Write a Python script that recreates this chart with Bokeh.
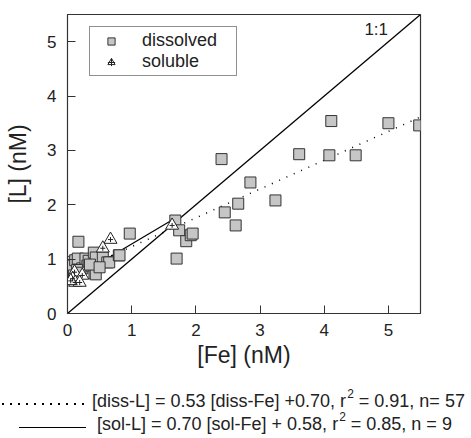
from bokeh.plotting import figure
from bokeh.layouts import column
from bokeh.models import Range1d, FixedTicker, Legend, LegendItem, Label, Div
from bokeh.embed import file_html
from bokeh.resources import INLINE

# dissolved data
diss_fe = [0.05, 0.08, 0.12, 0.16, 0.17, 0.23, 0.28, 0.31, 0.33, 0.41, 0.42, 0.44, 0.44,
           0.55, 0.62, 0.65, 0.8, 0.81, 0.97, 0.15, 0.1, 0.2, 0.35, 0.5,
           1.68, 1.70, 1.74, 1.85, 1.92, 1.95, 2.40, 2.45, 2.62, 2.66, 2.85, 3.24,
           3.61, 4.08, 4.11, 4.49, 5.0, 5.48]
diss_l = [0.95, 0.88, 0.98, 1.01, 1.32, 0.83, 1.01, 0.88, 0.97, 1.12, 0.74, 1.03, 0.72,
          1.03, 0.94, 0.94, 1.07, 1.07, 1.47, 0.8, 0.7, 0.75, 0.9, 0.85,
          1.71, 1.01, 1.53, 1.33, 1.44, 1.47, 2.84, 1.86, 1.62, 2.02, 2.41, 2.08,
          2.93, 2.91, 3.54, 2.91, 3.50, 3.46]
# soluble data
sol_fe = [0.67, 0.55, 1.63, 0.11, 0.08, 0.23, 0.12, 0.19, 0.05]
sol_l = [1.36, 1.20, 1.62, 0.76, 0.64, 0.70, 0.57, 0.57, 0.60]

diss_slope, diss_int = 0.53, 0.70
sol_slope, sol_int = 0.70, 0.58
diss_fit_x = [0.0, 5.5]
sol_fit_x = [0.08, 1.65]
one_x = [0.0, 5.5]

ticks = [0, 1, 2, 3, 4, 5]
eq1_a, eq1_b = "[diss-L] = 0.53 [diss-Fe] +0.70, r", " = 0.91, n= 57"
eq2_a, eq2_b = "[sol-L] = 0.70 [sol-Fe] + 0.58, r", " = 0.85, n = 9"

FONT = "Liberation Sans"
TXT = "#222222"

p = figure(frame_width=353, frame_height=299, output_backend="svg", toolbar_location=None,
           x_range=Range1d(0, 5.5), y_range=Range1d(0, 5.5),
           min_border_left=67, min_border_right=35, min_border_top=14, min_border_bottom=57)
p.grid.visible = False
p.outline_line_color = "#333333"
p.outline_line_width = 1.2
p.background_fill_color = "white"
p.border_fill_color = "white"

for ax in (p.xaxis[0], p.yaxis[0]):
    ax.ticker = FixedTicker(ticks=ticks)
    ax.major_tick_in = 8
    ax.major_tick_out = 0
    ax.minor_tick_in = 0
    ax.minor_tick_out = 0
    ax.axis_line_color = "#333333"
    ax.major_tick_line_color = "#333333"
    ax.major_label_text_font = FONT
    ax.major_label_text_font_size = "17px"
    ax.major_label_text_color = TXT
    ax.axis_label_text_font = FONT
    ax.axis_label_text_font_size = "23px"
    ax.axis_label_text_font_style = "normal"
    ax.axis_label_text_color = TXT

p.xaxis.axis_label = "[Fe] (nM)"
p.yaxis.axis_label = "[L] (nM)"
p.xaxis.major_label_standoff = 10
p.xaxis.axis_label_standoff = 3
p.yaxis.major_label_standoff = 11
p.yaxis.axis_label_standoff = 13

# 1:1 line
p.line(one_x, one_x, line_color="black", line_width=1.3)
# fits
p.line(diss_fit_x, [diss_slope * x + diss_int for x in diss_fit_x], line_color="black",
       line_width=1.5, line_dash="1 7")
p.line(sol_fit_x, [sol_slope * x + sol_int for x in sol_fit_x], line_color="black", line_width=1.2)

sq = p.scatter(diss_fe, diss_l, marker="square", size=11, fill_color="#c6c6c6",
               line_color="#333333", line_width=1)
tri = p.scatter(sol_fe, sol_l, marker="triangle", size=13, fill_color="white",
                line_color="#222222", line_width=1)
tri2 = p.scatter(sol_fe, sol_l, marker="cross", size=5, line_color="#222222", line_width=1)

legend = Legend(items=[LegendItem(label="dissolved", renderers=[sq]),
                       LegendItem(label="soluble", renderers=[tri, tri2])],
                location=(22, 299 - 13 - 49))
legend.label_text_font = FONT
legend.label_text_font_size = "18px"
legend.label_text_color = TXT
legend.border_line_color = "#222222"
legend.border_line_width = 1.2
legend.margin = 0
legend.padding = 3
legend.spacing = 0
legend.glyph_width = 36
legend.label_standoff = 13
legend.label_width = 91
legend.label_height = 18
legend.glyph_height = 18
legend.background_fill_alpha = 1
p.add_layout(legend)

p.add_layout(Label(x=4.81, y=5.23, text="1:1", text_font=FONT, text_font_size="17px",
                   text_color=TXT, text_align="center", text_baseline="middle"))

# equations panel below
sup = "<span style='position:relative;top:-9px;font-size:12px;margin-left:1px'>2</span>"
dots = ("<div style='position:absolute;left:2px;top:33px;width:86px;height:2px;"
        "background-image:repeating-linear-gradient(to right,#000 0px,#000 1.5px,"
        "transparent 1.5px,transparent 8px);'></div>")
solid = ("<div style='position:absolute;left:19px;top:57px;width:67px;height:1px;"
         "background:#000;'></div>")
t1 = (f"<div style='position:absolute;left:92px;top:22px;white-space:nowrap;line-height:18px'>"
      f"{eq1_a}{sup}{eq1_b}</div>")
t2 = (f"<div style='position:absolute;left:97px;top:45px;white-space:nowrap;line-height:18px'>"
      f"{eq2_a}{sup}{eq2_b}</div>")
html = (f"<div style=\"position:relative;width:455px;height:62px;font-family:'Liberation Sans';"
        f"font-size:18px;color:{TXT};\">{dots}{solid}{t1}{t2}</div>")
d = Div(text=html, width=455, height=62, margin=(0, 0, 0, 0))

lay = column(p, d, spacing=0)
open("out.html", "w").write(file_html(lay, INLINE))
